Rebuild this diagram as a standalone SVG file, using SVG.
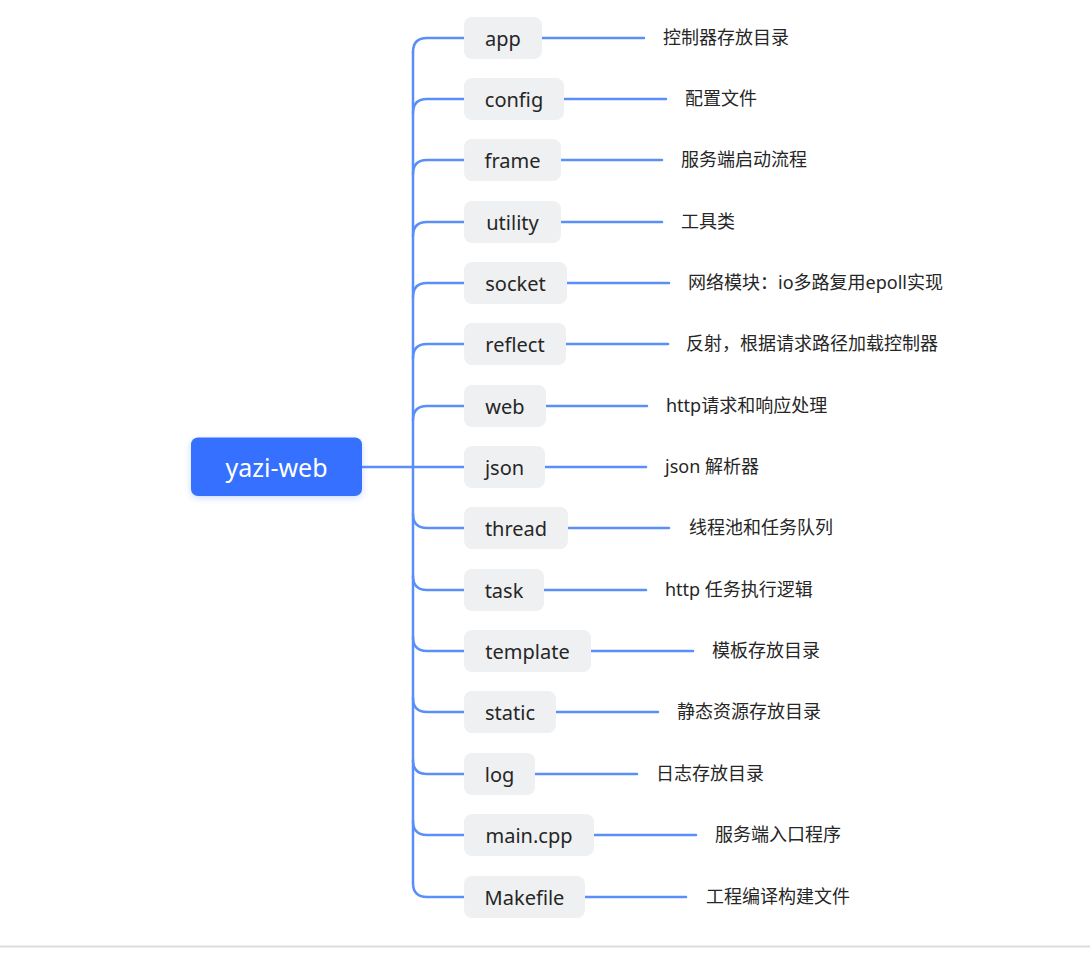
<svg xmlns="http://www.w3.org/2000/svg" width="1090" height="961" viewBox="0 0 1090 961">
<defs>
<filter id="sh" x="-20%" y="-30%" width="140%" height="160%">
<feDropShadow dx="0" dy="2" stdDeviation="3" flood-color="#3670ff" flood-opacity="0.25"/>
</filter>
<style>
.box{fill:#eff0f2}
.bt{font-family:"Noto Sans","Noto Sans CJK SC",sans-serif;font-size:20px;fill:#262626;text-anchor:middle;dominant-baseline:central}
.lb{font-family:"Noto Sans","Noto Sans CJK SC",sans-serif;font-size:18px;fill:#262626;dominant-baseline:central}
.ln{fill:none;stroke:#5a8ef8;stroke-width:2.5;stroke-linecap:round}
</style>
</defs>
<rect width="1090" height="961" fill="#ffffff"/>
<line x1="0" y1="946.5" x2="1090" y2="946.5" stroke="#dcdce2" stroke-width="2"/>
<g id="connectors">
<path class="ln" d="M413 52 V883" stroke-width="3"/>
<path class="ln" d="M362 467 H464"/>
<path class="ln" d="M413 52 Q413 38 427 38 H464 M542 38 H644"/>
<path class="ln" d="M413 113 Q413 99 427 99 H464 M564 99 H666"/>
<path class="ln" d="M413 174 Q413 160 427 160 H464 M561 160 H662"/>
<path class="ln" d="M413 236 Q413 222 427 222 H464 M561 222 H662"/>
<path class="ln" d="M413 297 Q413 283 427 283 H464 M567 283 H669"/>
<path class="ln" d="M413 358 Q413 344 427 344 H464 M566 344 H668"/>
<path class="ln" d="M413 420 Q413 406 427 406 H464 M546 406 H647"/>
<path class="ln" d="M545 467 H646"/>
<path class="ln" d="M413 514 Q413 528 427 528 H464 M568 528 H669"/>
<path class="ln" d="M413 576 Q413 590 427 590 H464 M544 590 H646"/>
<path class="ln" d="M413 637 Q413 651 427 651 H464 M591 651 H693"/>
<path class="ln" d="M413 698 Q413 712 427 712 H464 M556 712 H658"/>
<path class="ln" d="M413 760 Q413 774 427 774 H464 M535 774 H637"/>
<path class="ln" d="M413 821 Q413 835 427 835 H464 M594 835 H696"/>
<path class="ln" d="M413 883 Q413 897 427 897 H464 M585 897 H686"/>
</g>
<g id="root">
<rect x="191" y="437.5" width="171" height="58.5" rx="7" fill="#3670ff" filter="url(#sh)"/>
<text x="276.5" y="466.5" font-family="Noto Sans, Noto Sans CJK SC, sans-serif" font-size="25" fill="#ffffff" text-anchor="middle" dominant-baseline="central">yazi-web</text>
</g>
<g id="n-app"><rect class="box" x="464" y="17" width="78" height="42" rx="8"/><text class="bt" x="503" y="38">app</text><text class="lb" x="663" y="37">控制器存放目录</text></g>
<g id="n-config"><rect class="box" x="464" y="78" width="100" height="42" rx="8"/><text class="bt" x="514" y="99">config</text><text class="lb" x="685" y="98">配置文件</text></g>
<g id="n-frame"><rect class="box" x="464" y="139" width="97" height="42" rx="8"/><text class="bt" x="512.5" y="160">frame</text><text class="lb" x="681" y="159">服务端启动流程</text></g>
<g id="n-utility"><rect class="box" x="464" y="201" width="97" height="42" rx="8"/><text class="bt" x="512.5" y="222">utility</text><text class="lb" x="681" y="221">工具类</text></g>
<g id="n-socket"><rect class="box" x="464" y="262" width="103" height="42" rx="8"/><text class="bt" x="515.5" y="283">socket</text><text class="lb" x="688" y="282">网络模块：io多路复用epoll实现</text></g>
<g id="n-reflect"><rect class="box" x="464" y="323" width="102" height="42" rx="8"/><text class="bt" x="515" y="344">reflect</text><text class="lb" x="686" y="343">反射，根据请求路径加载控制器</text></g>
<g id="n-web"><rect class="box" x="464" y="385" width="82" height="42" rx="8"/><text class="bt" x="505" y="406">web</text><text class="lb" x="666" y="405">http请求和响应处理</text></g>
<g id="n-json"><rect class="box" x="464" y="446" width="81" height="42" rx="8"/><text class="bt" x="504.5" y="467">json</text><text class="lb" x="665" y="466">json 解析器</text></g>
<g id="n-thread"><rect class="box" x="464" y="507" width="104" height="42" rx="8"/><text class="bt" x="516" y="528">thread</text><text class="lb" x="689" y="527">线程池和任务队列</text></g>
<g id="n-task"><rect class="box" x="464" y="569" width="80" height="42" rx="8"/><text class="bt" x="504" y="590">task</text><text class="lb" x="665" y="589">http 任务执行逻辑</text></g>
<g id="n-template"><rect class="box" x="464" y="630" width="127" height="42" rx="8"/><text class="bt" x="527.5" y="651">template</text><text class="lb" x="712" y="650">模板存放目录</text></g>
<g id="n-static"><rect class="box" x="464" y="691" width="92" height="42" rx="8"/><text class="bt" x="510" y="712">static</text><text class="lb" x="677" y="711">静态资源存放目录</text></g>
<g id="n-log"><rect class="box" x="464" y="753" width="71" height="42" rx="8"/><text class="bt" x="499.5" y="774">log</text><text class="lb" x="656" y="773">日志存放目录</text></g>
<g id="n-main"><rect class="box" x="464" y="814" width="130" height="42" rx="8"/><text class="bt" x="529" y="835">main.cpp</text><text class="lb" x="715" y="834">服务端入口程序</text></g>
<g id="n-makefile"><rect class="box" x="464" y="876" width="121" height="42" rx="8"/><text class="bt" x="524.5" y="897">Makefile</text><text class="lb" x="706" y="896">工程编译构建文件</text></g>
</svg>
